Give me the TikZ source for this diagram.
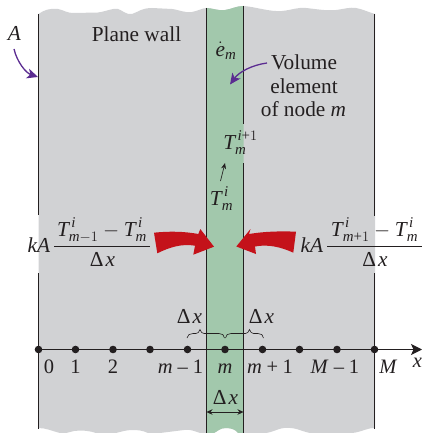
\documentclass[tikz,border=0pt]{standalone}
\usepackage{amsmath}
\usepackage{fontspec}
\setmainfont{Liberation Serif}
\usetikzlibrary{arrows.meta}
\definecolor{wallgray}{HTML}{D1D2D4}
\definecolor{elemgreen}{HTML}{A2C8AC}
\definecolor{inkc}{HTML}{231F20}
\definecolor{purp}{HTML}{5B2C91}
\definecolor{redar}{HTML}{C4121A}
\newcommand{\mi}[1]{\text{\itshape #1}}
\newcommand{\Dx}{Δ\kern2pt\textit{x}}
\tikzset{
  x=1pt,y=-1pt,
  lab/.style={inner sep=0pt,outer sep=0pt,text=inkc,font=\fontsize{21.3}{21.3}\selectfont},
  num/.style={inner sep=0pt,outer sep=0pt,text=inkc,font=\fontsize{20.5}{20.5}\selectfont,anchor=base},
  wall/.style={line width=1.1pt,draw=inkc},
  dot/.style={circle,fill=inkc,minimum size=7.6pt,inner sep=0pt,outer sep=0pt},
  purpar/.style={draw=purp,line width=1.3pt,-{Stealth[length=11pt,width=10pt,inset=3pt]}},
  thinar/.style={draw=inkc,line width=.7pt,{Stealth[length=6pt,width=5.5pt]}-{Stealth[length=6pt,width=5.5pt]}},
  axis/.style={draw=inkc,line width=1.2pt,-{Stealth[length=11pt,width=11pt,inset=2.5pt]}},
  bracest/.style={draw=inkc,line width=.6pt},
  redarrow/.style={fill=redar,draw=none}
}
\begin{document}
\begin{tikzpicture}
\useasboundingbox (0,0) rectangle (422,433);
% wall
\fill[wallgray] (38.5,14) .. controls (44,10) and (50,8) .. (58,9) .. controls (64,10) and (66,13) .. (74,13)
  -- (98,12.5) .. controls (108,11) and (112,8) .. (118,9) .. controls (122,10) and (126,15) .. (132,14)
  .. controls (138,12) and (142,8) .. (152,8) -- (172,9) .. controls (180,10) and (184,13) .. (192,12)
  .. controls (198,11) and (202,8) .. (207,8) -- (207,8)
  .. controls (212,8) and (218,11) .. (225,10) .. controls (232,9) and (236,6) .. (244,6)
  .. controls (256,7) and (270,12) .. (282,11) .. controls (292,10) and (298,7) .. (306,8)
  .. controls (316,9) and (326,11) .. (336,10) .. controls (344,9) and (350,7) .. (356,8)
  .. controls (362,9) and (368,12) .. (375,14)
  -- (375,428) .. controls (366,428) and (362,432) .. (352,433) -- (310,433)
  .. controls (300,431) and (296,427) .. (284,428) .. controls (276,429) and (272,433) .. (264,433)
  -- (238,433) .. controls (236,430) and (232,428) .. (226,428) .. controls (220,428) and (218,431) .. (214,433)
  -- (200,433) .. controls (194,431) and (190,429) .. (184,430) -- (160,433) -- (148,433)
  .. controls (142,430) and (136,430) .. (132,430) .. controls (126,430) and (120,432) .. (116,433)
  -- (96,433) .. controls (90,431) and (84,430) .. (74,431) -- (66,433) -- (60,433)
  .. controls (52,431) and (46,428) .. (38.5,428) -- cycle;
% element
\fill[elemgreen] (206.5,8) .. controls (212,8) and (218,11) .. (225,10) .. controls (232,9) and (236,6) .. (243.5,6)
  -- (243.5,433) -- (238,433) .. controls (236,430) and (232,428) .. (226,428) .. controls (220,428) and (218,431) .. (214,433)
  -- (206.5,433) -- cycle;
% wall lines
\coordinate (lt) at (38.5,14);  \coordinate (lb1) at (38.5,215);
\coordinate (lb2) at (38.5,273); \coordinate (lb) at (38.5,429);
\coordinate (rt) at (374.5,14); \coordinate (rb1) at (374.5,216);
\coordinate (rb2) at (374.5,273); \coordinate (rb) at (374.5,429);
\coordinate (et) at (206.5,8);  \coordinate (eb) at (206.5,433);
\coordinate (ft) at (243.5,6);  \coordinate (fb1) at (243.5,124);
\coordinate (fb2) at (243.5,163); \coordinate (fb) at (243.5,433);
\draw[wall] (lt) -- (lb1) (lb2) -- (lb);
\draw[wall] (rt) -- (rb1) (rb2) -- (rb);
\draw[wall] (et) -- (eb);
\draw[wall] (ft) -- (fb1) (fb2) -- (fb);
% axis and nodes
\node[dot] (n0) at (38.5,349.5) {};
\node[dot] (n1) at (75.5,349.5) {};
\node[dot] (n2) at (113,349.5) {};
\node[dot] (n3) at (150,349.5) {};
\node[dot] (n4) at (187.5,349.5) {};
\node[dot] (n5) at (225,349.5) {};
\node[dot] (n6) at (262.5,349.5) {};
\node[dot] (n7) at (299.5,349.5) {};
\node[dot] (n8) at (337,349.5) {};
\node[dot] (n9) at (374.5,349.5) {};
\coordinate (axend) at (422,349.5);
\draw[axis] (n0.center) -- (axend);
% node labels
\node[num] (l0) at (49,373) {0};
\node[num] (l1) at (75.5,373) {1};
\node[num] (l2) at (113,373) {2};
\node[num] (l4) at (180.5,373) {\textit{m}\kern5pt–\kern5pt1};
\node[num] (l5) at (225,373) {\textit{m}};
\node[num] (l6) at (270,373) {\textit{m}\kern4.5pt+\kern4.5pt1};
\node[num] (l8) at (335,373) {\textit{M}\kern5pt–\kern5pt1};
\node[num] (l9) at (388.5,373) {\textit{M}};
\node[num] (xl) at (417.5,367) {\textit{x}};
% texts
\node[lab,anchor=base] (A) at (14.5,41) {\textit{A}};
\node[lab,anchor=base] (pw) at (136.5,42) {Plane wall};
\node[lab,anchor=base] (ve1) at (304,70) {Volume};
\node[lab,anchor=base] (ve2) at (304,94) {element};
\node[lab,anchor=base] (ve3) at (303.5,117) {of node \textit{m}};
\node[lab,anchor=base] (edot) at (226,56.5) {$\dot{\mi{e}}_{\mi{m}}$};
\node[lab,anchor=base] (Tnew) at (240.5,149) {$\mi{T}^{\,\mi{i}\text{+}1}_{\mi{m}}$};
\node[lab,anchor=base] (Told) at (221.5,205) {$\mi{T}^{\,\mi{i}}_{\mi{m}}$};
\coordinate (ts) at (220.5,181);
\coordinate (te) at (225,163);
\draw[draw=inkc,line width=.7pt,-{Stealth[length=6pt,width=5pt]}] (ts) -- (te);
% purple arrows
\coordinate (As) at (14,49);
\coordinate (Ae) at (38,77);
\draw[purpar] (As) .. controls (17,62) and (26,73) .. (Ae);
\coordinate (Vs) at (267,63);
\coordinate (Ve) at (230,84.5);
\draw[purpar] (Vs) .. controls (252,65) and (239,72) .. (Ve);
% flux expressions
\node[lab,anchor=base] (kal) at (39,252) {\textit{kA}};
\coordinate (fl1) at (54,246.5); \coordinate (fl2) at (150,246.5);
\draw[draw=inkc,line width=.8pt] (fl1) -- (fl2);
\node[lab,anchor=base] (numl) at (102,236) {$\mi{T}^{\,\mi{i}}_{\mi{m}-1}-\mi{T}^{\,\mi{i}}_{\mi{m}}$};
\node[lab,anchor=base] (denl) at (102.5,266) {\Dx};
\node[lab,anchor=base] (kar) at (312,252) {\textit{kA}};
\coordinate (fr1) at (327,246.5); \coordinate (fr2) at (422,246.5);
\draw[draw=inkc,line width=.8pt] (fr1) -- (fr2);
\node[lab,anchor=base] (numr) at (374.5,236) {$\mi{T}^{\,\mi{i}}_{\mi{m}\text{+}1}-\mi{T}^{\,\mi{i}}_{\mi{m}}$};
\node[lab,anchor=base] (denr) at (375,266) {\Dx};
% red arrows
\fill[redarrow] (154,232.7) .. controls (170,231) and (185,231.5) .. (198.3,234) -- (200.3,229) -- (214,246.7) -- (193.3,254.7) -- (195,245.7)
  .. controls (182,243.5) and (170,247) .. (157.3,253.3) -- cycle;
\fill[redarrow] (296,231.7) .. controls (280,231) and (264,231.5) .. (249,234) -- (250.5,229) -- (236.3,246.5) -- (256,254) -- (255,246.5)
  .. controls (268,244) and (281,247) .. (293.3,252.7) -- cycle;
% Delta x labels and braces
\node[lab,anchor=base] (dx1) at (189.5,323.5) {\Dx};
\node[lab,anchor=base] (dx2) at (261.5,323.5) {\Dx};
\node[lab,anchor=base] (dx3) at (225.5,404) {\Dx};
\coordinate (b1) at (187,338); \coordinate (b1m) at (200,329.5); \coordinate (b2l) at (224.5,338);
\coordinate (b2r) at (225.5,338); \coordinate (b3m) at (249.5,329.5); \coordinate (b3) at (263.5,338);
\draw[bracest] (b1) .. controls (187,335) and (190,333.5) .. (193,333.5) -- (196,333.5)
  .. controls (198,333.5) and (199,332) .. (b1m) .. controls (201,332) and (202,333.5) .. (204,333.5) -- (219,333.5)
  .. controls (222,333.5) and (224.5,335) .. (b2l);
\draw[bracest] (b2r) .. controls (225.5,335) and (228,333.5) .. (231,333.5) -- (245.5,333.5)
  .. controls (247.5,333.5) and (248.5,332) .. (b3m) .. controls (250.5,332) and (251.5,333.5) .. (253.5,333.5) -- (258,333.5)
  .. controls (261,333.5) and (263.5,335) .. (b3);
\coordinate (da) at (206.5,412); \coordinate (db) at (243.5,412);
\draw[thinar] (da) -- (db);
\end{tikzpicture}
\end{document}
